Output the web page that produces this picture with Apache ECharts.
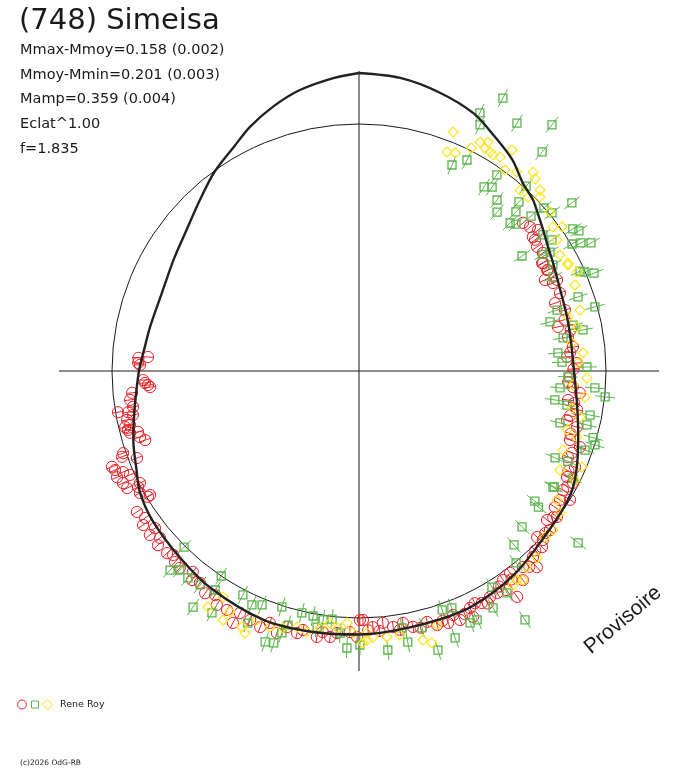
<!DOCTYPE html>
<html>
<head>
<meta charset="utf-8">
<script src="https://cdn.jsdelivr.net/npm/echarts@6.0.0/dist/echarts.min.js"></script>
<style>
html, body { margin: 0; padding: 0; background: #fff; }
#chart { width: 688px; height: 768px; }
</style>
</head>
<body>
<div id="chart"></div>
<script>
// polar lightcurve : angle = phase (deg, clockwise from top), radius = mag offset from mean (brighter outward)
var titleText = '(748) Simeisa';
var infoLines = ['Mmax-Mmoy=0.158 (0.002)', 'Mmoy-Mmin=0.201 (0.003)', 'Mamp=0.359 (0.004)', 'Eclat^1.00', 'f=1.835'];
var observer = 'Rene Roy';

// fitted curve [phase, dmag]
var fitCurve = [
    [0, 0.204], [8, 0.196], [16, 0.172], [24, 0.140], [30, 0.096], [36, 0.056], [41, 0.010],
    [45.5, -0.012], [48.5, -0.034], [52.5, -0.060], [56, -0.080], [61, -0.100], [68, -0.120],
    [75, -0.128], [82, -0.132], [90, -0.128], [98, -0.108], [106, -0.076], [113, -0.040],
    [119, -0.012], [125, -0.002], [135, 0.014], [142, 0.034], [149, 0.048], [157, 0.058],
    [169, 0.058], [180, 0.066], [190, 0.072], [201, 0.078], [214, 0.064], [224, 0.046],
    [234, 0.032], [241, 0.014], [246, -0.014], [253, -0.044], [260, -0.076], [270, -0.108],
    [276.5, -0.126], [282, -0.134], [291.5, -0.140], [301, -0.123], [309, -0.098], [317, -0.054],
    [324, -0.004], [331, 0.040], [336, 0.082], [342, 0.124], [348, 0.160], [355, 0.188], [360, 0.204]
];

// session 1 (red circles)
var sessionCircle = [
    [273.4,-0.104],[273.8,-0.142],[272.1,-0.104],[271.6,-0.112],[267.6,-0.124],[266.2,-0.142],[265.6,-0.150],
    [266.8,-0.131],[264.5,-0.076],[262.8,-0.065],[261.0,-0.073],[260.3,-0.010],[259.9,-0.050],[259.0,-0.067],
    [258.1,-0.040],[256.7,-0.047],[256.5,-0.026],[255.7,-0.034],[254.6,-0.071],[253.2,-0.073],[252.1,-0.089],
    [254.9,-0.039],[250.8,0.011],[250.1,0.020],[248.6,-0.034],[248.8,0.072],[247.9,0.065],[246.8,0.039],
    [246.3,0.069],[245.6,0.018],[244.6,0.057],[242.9,-0.004],[243.2,0.051],[240.9,0.015],[239.3,-0.016],
    [242.3,0.010],[239.2,-0.005],[237.6,0.064],[235.5,0.050],[234.5,0.073],[232.4,0.042],[231.9,0.075],
    [230.0,0.051],[229.1,0.076],[226.5,0.070],[225.3,0.058],[223.9,0.073],[222.3,0.077],[219.6,0.055],
    [218.6,0.082],[216.9,0.072],[214.7,0.093],[212.7,0.077],[211.3,0.107],[208.9,0.104],[206.2,0.091],
    [206.6,0.139],[203.6,0.099],[201.1,0.110],[199.5,0.081],[197.4,0.110],[195.7,0.076],[193.3,0.089],
    [192.2,0.072],[189.0,0.089],[187.9,0.066],[186.2,0.082],[184.8,0.064],[182.0,0.057],[179.8,0.008],
    [180.4,0.076],[179.1,0.008],[176.9,0.038],[174.6,0.024],[172.4,0.045],[170.1,0.035],[168.1,0.058],
    [164.8,0.052],[162.9,0.075],[160.5,0.081],[158.9,0.058],[157.9,0.087],[154.9,0.059],[152.1,0.062],
    [155.1,0.096],[149.9,0.057],[148.1,0.058],[146.0,0.069],[145.4,0.027],[143.2,0.021],[145.0,0.115],
    [141.9,0.075],[140.1,0.034],[137.8,0.071],[136.9,0.031],[133.9,0.028],[132.6,0.011],[133.0,-0.014],
    [129.8,0.006],[128.4,-0.028],[126.4,-0.004],[124.8,-0.034],[122.7,-0.033],[120.3,-0.043],[121.4,0.001],
    [127.0,-0.015],[131.0,0.000],[135.5,0.018],[139.0,0.050],[143.8,0.045],[147.0,0.040],[151.0,0.075],
    [153.5,0.050],[156.5,0.072],[161.5,0.065],[166.5,0.068],[171.0,0.060],[175.5,0.055],[178.0,0.050],
    [59.6,-0.134],[61.9,-0.131],[65.3,-0.116],[68.8,-0.126],[70.9,-0.158],[73.5,-0.129],[77.5,-0.173],
    [80.8,-0.141],[83.6,-0.127],[86.1,-0.154],[87.9,-0.116],[91.6,-0.144],[94.3,-0.130],[95.7,-0.100],
    [97.9,-0.144],[100.1,-0.102],[103.3,-0.133],[104.4,-0.088],[108.1,-0.100],[109.0,-0.053],[112.4,-0.084],
    [114.0,-0.042],[117.0,-0.054],[117.6,-0.022],[98.5,-0.118],[102.0,-0.125],[106.5,-0.105],[111.0,-0.075],
    [115.5,-0.060],[119.0,-0.035],[76.0,-0.140],[79.0,-0.125],[85.0,-0.140],[89.5,-0.130],[93.0,-0.150],
    [47.9,-0.104],[49.9,-0.094],[52.4,-0.110],[51.8,-0.076],[55.1,-0.120],[57.3,-0.114],[59.5,-0.138],
    [61.8,-0.134],[63.9,-0.160],[65.6,-0.136],[53.3,-0.110]
];

// session 2 (green squares)
var sessionSquare = [
    [27.8,0.246],[25.1,0.152],[26.2,0.109],[32.5,0.188],[38.1,0.263],[39.9,0.154],[27.1,-0.040],[24.3,-0.084],
    [35.1,-0.029],[34.2,-0.098],[35.9,-0.080],[38.9,-0.109],[41.0,-0.146],[43.4,-0.057],[42.1,0.009],[51.7,0.097],
    [45.6,-0.142],[46.9,-0.128],[48.0,-0.062],[48.6,-0.002],[50.7,0.010],[56.4,0.039],[57.5,0.055],[59.2,0.004],
    [60.0,0.037],[61.1,0.072],[54.8,-0.190],[53.5,-0.073],[58.1,-0.088],[65.7,-0.018],[66.3,-0.005],[67.4,0.030],
    [61.3,-0.104],[57.6,-0.117],[44.6,-0.094],[64.1,-0.126],[55.8,-0.055],
    [74.8,-0.010],[71.3,-0.063],[72.9,-0.159],[75.6,-0.199],[79.6,-0.077],[77.9,-0.112],[80.8,-0.161],
    [84.8,-0.189],[87.5,-0.175],[89.0,-0.076],[91.6,-0.152],[94.1,-0.042],[96.0,0.002],[94.8,-0.181],
    [98.4,-0.196],[99.3,-0.145],[100.8,-0.047],[104.5,-0.158],[103.3,-0.051],[105.9,-0.014],[107.4,0.001],
    [113.9,-0.130],[113.4,-0.078],[109.3,-0.030],[120.9,-0.084],[116.6,-0.031],
    [126.5,-0.113],[127.2,-0.087],[133.7,-0.086],[138.3,-0.056],[128.1,0.126],[120.7,-0.080],[140.7,0.004],
    [148.4,0.027],[146.3,0.209],[150.5,0.101],[146.3,0.079],[154.6,0.114],[156.2,0.113],[160.2,0.147],
    [164.2,0.172],[158.6,0.030],[160.8,0.024],[169.8,0.114],[174.1,0.134],[170.5,0.054],[166.2,0.070],[179.8,0.108],
    [224.8,0.005],[223.5,0.110],[222.0,0.083],[219.6,0.086],[216.6,0.078],[213.3,0.060],[213.9,0.000],
    [215.1,0.166],[211.3,0.144],[207.4,0.021],[204.6,0.041],[202.5,0.025],[198.1,0.005],[203.8,0.114],
    [199.1,0.159],[197.4,0.152],[195.6,0.067],[193.3,0.006],[190.6,0.009],[188.2,0.018],[186.2,0.010],
    [184.1,0.063],[182.5,0.121],[189.3,0.050],[196.4,0.104]
];

// session 3 (yellow diamonds)
var sessionDiamond = [
    [21.5,0.039],[21.9,-0.044],[23.8,-0.035],[27.9,0.048],[29.4,0.063],[29.5,0.036],[26.7,0.010],[30.9,0.033],
    [31.8,0.029],[33.4,0.037],[34.7,0.087],[36.0,0.006],[38.4,0.028],[41.2,0.069],[42.5,0.054],[45.0,0.036],
    [44.2,-0.018],[46.1,0.016],[41.7,-0.019],[50.2,0.006],[54.6,0.008],[53.4,-0.022],[56.5,-0.038],[62.7,-0.047],
    [65.6,-0.030],[60.0,-0.060],
    [63.1,-0.051],[68.3,-0.058],[74.6,-0.071],[75.5,-0.124],[78.6,-0.098],[82.5,-0.129],[85.4,-0.089],
    [87.9,-0.112],[91.8,-0.076],[93.7,-0.130],[96.6,-0.078],[99.9,-0.123],[101.8,-0.085],[105.8,-0.123],
    [106.8,-0.077],[111.2,-0.113],[113.3,-0.017],[116.2,-0.092],[116.8,-0.020],
    [123.1,-0.043],[125.2,-0.004],[129.3,0.015],[131.8,0.009],[136.4,0.045],[139.4,0.045],[141.9,0.075],
    [142.9,0.060],[144.3,0.067],[177.0,0.078],[178.3,0.060],[174.0,0.082],[171.2,0.081],[166.6,0.118],
    [165.0,0.138],[162.9,0.075],[179.2,0.100],
    [212.6,0.133],[211.0,0.067],[208.6,0.147],[208.2,0.105],[204.6,0.138],[203.5,0.155],[202.3,0.088],
    [199.2,0.096],[196.5,0.084],[193.6,0.066],[191.3,0.076],[188.6,0.052],[186.6,0.027],[184.7,0.044],
    [182.7,0.021],[181.3,0.060],[178.3,0.088]
];

var RED = '#e8262b', GREEN = '#5ab54b', YELLOW = '#ffe51a', INK = '#1a1a1a';
var CX = 359, CY = 371;
var SCALE = 250;                 // px per magnitude
var R_OUT = 300, R_MEAN = 247;
var rMin = -R_MEAN / SCALE, rMax = (R_OUT - R_MEAN) / SCALE;

function toPolar(arr) {
    return arr.map(function (d) { return [d[1], d[0]]; });
}

function markerRender(kind, color, err) {
    return function (params, api) {
        var dm = api.value(0), ang = api.value(1);
        var p = api.coord([dm, ang]);
        var kids = [];
        if (err) {
            var a = api.coord([dm - err, ang]);
            var b = api.coord([dm + err, ang]);
            kids.push({ type: 'line', shape: { x1: a[0], y1: a[1], x2: b[0], y2: b[1] },
                style: { stroke: color, lineWidth: 1 } });
        }
        if (kind === 'circle') {
            kids.push({ type: 'circle', shape: { cx: p[0], cy: p[1], r: 5.6 },
                style: { fill: null, stroke: color, lineWidth: 1 } });
        } else if (kind === 'square') {
            kids.push({ type: 'rect', shape: { x: p[0] - 4, y: p[1] - 4, width: 8, height: 8 },
                style: { fill: null, stroke: color, lineWidth: 1.3 } });
        } else {
            kids.push({ type: 'polygon', shape: { points: [[p[0], p[1] - 5], [p[0] + 5, p[1]], [p[0], p[1] + 5], [p[0] - 5, p[1]]] },
                style: { fill: null, stroke: color, lineWidth: 1.2 } });
        }
        return { type: 'group', children: kids };
    };
}

var chart = echarts.init(document.getElementById('chart'));

var graphics = [
    { type: 'text', x: 19, y: 21.5, style: { text: titleText, font: '29px "DejaVu Sans"', fill: INK, textVerticalAlign: 'middle' } }
];
var lineY = [50, 75, 99.5, 124, 149];
for (var i = 0; i < infoLines.length; i++) {
    graphics.push({ type: 'text', x: 20, y: lineY[i], style: { text: infoLines[i], font: '14.5px "DejaVu Sans"', fill: INK, textVerticalAlign: 'middle' } });
}
graphics.push(
    { type: 'text', x: 623, y: 620, rotation: 0.70,
      style: { text: 'Provisoire', font: '21px "Liberation Sans"', fill: INK, textAlign: 'center', textVerticalAlign: 'middle' } },
    { type: 'circle', shape: { cx: 22, cy: 704.5, r: 4.5 }, style: { fill: null, stroke: RED, lineWidth: 1 } },
    { type: 'rect', shape: { x: 31.5, y: 701, width: 7, height: 7 }, style: { fill: null, stroke: GREEN, lineWidth: 1 } },
    { type: 'polygon', shape: { points: [[47.5, 699.5], [52.5, 704.5], [47.5, 709.5], [42.5, 704.5]] }, style: { fill: null, stroke: YELLOW, lineWidth: 1 } },
    { type: 'text', x: 60, y: 705, style: { text: observer, font: '9.5px "DejaVu Sans"', fill: INK, textVerticalAlign: 'middle' } },
    { type: 'text', x: 20, y: 763, style: { text: '(c)2026 OdG-RB', font: '7.5px "DejaVu Sans"', fill: INK, textVerticalAlign: 'middle' } }
);

var hidden = { show: false };
var option = {
    backgroundColor: '#fff',
    animation: false,
    polar: [
        { center: [CX, CY], radius: R_OUT },
        { center: [CX, CY], radius: R_MEAN }
    ],
    angleAxis: [
        { polarIndex: 0, type: 'value', min: 0, max: 360, interval: 90, startAngle: 90, clockwise: true,
          axisLine: hidden, axisTick: hidden, axisLabel: hidden,
          splitLine: { show: true, lineStyle: { color: INK, width: 1 } } },
        { polarIndex: 1, type: 'value', min: 0, max: 360, startAngle: 90, clockwise: true,
          axisLine: { show: true, lineStyle: { color: INK, width: 1 } },
          axisTick: hidden, axisLabel: hidden, splitLine: hidden }
    ],
    radiusAxis: [
        { polarIndex: 0, type: 'value', min: rMin, max: rMax,
          axisLine: hidden, axisTick: hidden, axisLabel: hidden, splitLine: hidden },
        { polarIndex: 1, type: 'value', min: 0, max: 1,
          axisLine: hidden, axisTick: hidden, axisLabel: hidden, splitLine: hidden }
    ],
    graphic: graphics,
    series: [
        { type: 'custom', coordinateSystem: 'polar', polarIndex: 0, data: toPolar(sessionCircle),
          encode: { radius: 0, angle: 1 }, renderItem: markerRender('circle', RED, 0.024) },
        { type: 'custom', coordinateSystem: 'polar', polarIndex: 0, data: toPolar(sessionSquare),
          encode: { radius: 0, angle: 1 }, renderItem: markerRender('square', GREEN, 0.04) },
        { type: 'custom', coordinateSystem: 'polar', polarIndex: 0, data: toPolar(sessionDiamond),
          encode: { radius: 0, angle: 1 }, renderItem: markerRender('diamond', YELLOW, 0) },
        { type: 'line', coordinateSystem: 'polar', polarIndex: 0, data: toPolar(fitCurve),
          smooth: 0.3, symbol: 'none', clip: false,
          lineStyle: { color: '#222', width: 2.4 } }
    ]
};
chart.setOption(option);
</script>
</body>
</html>
